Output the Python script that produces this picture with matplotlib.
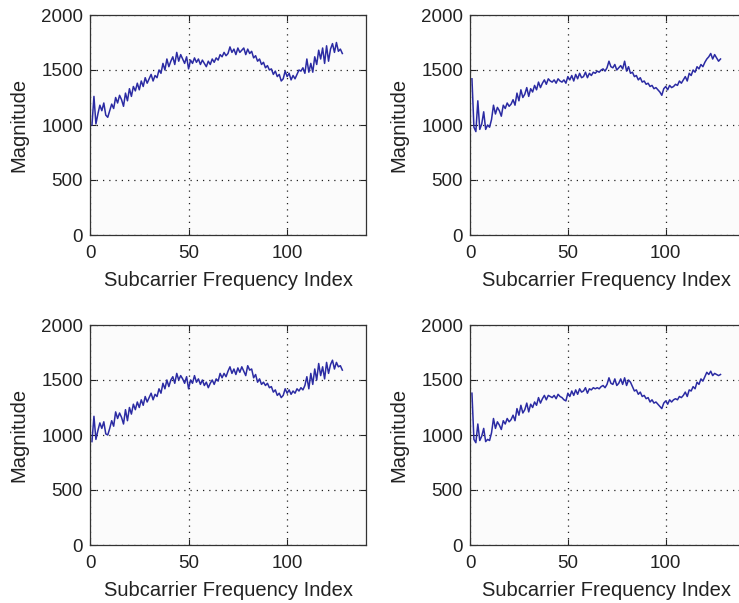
import numpy as np
import matplotlib
matplotlib.use("Agg")
import matplotlib.pyplot as plt

plt.rcParams['font.family'] = ['Liberation Sans', 'DejaVu Sans']

# subcarrier index 1..128
idx = np.arange(1, 129)

# magnitude, top-left panel
mag_tl = [
    1000, 1260, 1010, 1100, 1180, 1130, 1200, 1090,
    1070, 1130, 1190, 1150, 1250, 1200, 1270, 1230,
    1170, 1290, 1220, 1330, 1260, 1350, 1310, 1380,
    1320, 1400, 1350, 1430, 1380, 1420, 1460, 1400,
    1450, 1430, 1500, 1470, 1560, 1500, 1600, 1530,
    1580, 1620, 1550, 1660, 1580, 1640, 1600, 1560,
    1620, 1510, 1590, 1560, 1610, 1570, 1600, 1550,
    1590, 1560, 1530, 1580, 1550, 1600, 1570, 1610,
    1590, 1640, 1620, 1660, 1630, 1650, 1710, 1660,
    1690, 1640, 1700, 1660, 1680, 1700, 1640, 1690,
    1650, 1670, 1610, 1630, 1580, 1600, 1550, 1570,
    1520, 1540, 1500, 1510, 1460, 1490, 1440, 1460,
    1400, 1420, 1490, 1440, 1470, 1410, 1450, 1420,
    1460, 1500, 1490, 1520, 1470, 1600, 1480, 1560,
    1480, 1620, 1550, 1680, 1600, 1700, 1560, 1720,
    1580, 1690, 1740, 1660, 1750, 1670, 1690, 1650,
]

# magnitude, top-right panel
mag_tr = [
    1420, 980, 940, 1220, 960, 1010, 1120, 960,
    1000, 980, 1050, 1180, 1100, 1160, 1130, 1080,
    1180, 1150, 1200, 1170, 1190, 1230, 1180, 1290,
    1220, 1320, 1250, 1280, 1340, 1260, 1330, 1300,
    1360, 1320, 1390, 1340, 1380, 1410, 1370, 1420,
    1400, 1390, 1410, 1380, 1420, 1400, 1390, 1410,
    1380, 1440, 1410, 1450, 1400, 1460, 1420, 1470,
    1430, 1440, 1480, 1430, 1470, 1450, 1480, 1470,
    1490, 1480, 1500, 1510, 1490, 1520, 1580, 1530,
    1520, 1550, 1500, 1520, 1540, 1510, 1580, 1490,
    1530, 1470, 1480, 1440, 1450, 1410, 1430, 1390,
    1400, 1370, 1380, 1350, 1360, 1330, 1340, 1320,
    1300, 1270, 1330, 1350, 1320, 1360, 1340, 1350,
    1370, 1360, 1400, 1380, 1410, 1440, 1400, 1470,
    1450, 1500, 1480, 1530, 1510, 1550, 1530, 1570,
    1600, 1620, 1650, 1600, 1640, 1610, 1580, 1600,
]

# magnitude, bottom-left panel
mag_bl = [
    940, 1170, 960, 1040, 1110, 1060, 1120, 1010,
    1000, 1060, 1130, 1080, 1210, 1150, 1200, 1160,
    1100, 1230, 1130, 1250, 1190, 1280, 1230, 1300,
    1250, 1320, 1270, 1350, 1300, 1340, 1380, 1320,
    1370, 1350, 1420, 1380, 1470, 1420, 1500, 1440,
    1500, 1530, 1470, 1560, 1500, 1540, 1510, 1470,
    1530, 1420, 1500, 1470, 1540, 1480, 1510, 1460,
    1500, 1450, 1480, 1430, 1470, 1500, 1460, 1510,
    1490, 1560, 1520, 1560, 1530, 1580, 1620, 1560,
    1600, 1550, 1610, 1570, 1620, 1580, 1540, 1630,
    1590, 1600, 1520, 1550, 1480, 1510, 1460, 1480,
    1450, 1470, 1430, 1440, 1390, 1410, 1360, 1380,
    1340, 1360, 1420, 1380, 1410, 1370, 1400, 1380,
    1420, 1400, 1430, 1410, 1450, 1530, 1420, 1560,
    1460, 1600, 1500, 1650, 1540, 1620, 1510, 1660,
    1560, 1640, 1680, 1600, 1660, 1620, 1630, 1590,
]

# magnitude, bottom-right panel
mag_br = [
    1380, 960, 930, 1100, 950, 990, 1060, 940,
    960, 950, 1020, 1150, 1060, 1120, 1090, 1050,
    1130, 1100, 1150, 1120, 1140, 1180, 1130, 1240,
    1180, 1270, 1200, 1230, 1290, 1210, 1280, 1250,
    1300, 1270, 1340, 1290, 1330, 1360, 1320, 1360,
    1350, 1340, 1360, 1330, 1370, 1350, 1340, 1320,
    1310, 1380, 1350, 1400, 1360, 1410, 1370, 1420,
    1390, 1400, 1430, 1380, 1420, 1410, 1430, 1420,
    1430, 1420, 1440, 1450, 1430, 1460, 1520, 1470,
    1460, 1510, 1450, 1470, 1510, 1460, 1520, 1450,
    1500, 1480, 1440, 1400, 1410, 1370, 1390, 1350,
    1360, 1330, 1340, 1300, 1320, 1290, 1300, 1280,
    1260, 1240, 1290, 1310, 1280, 1320, 1300, 1320,
    1330, 1320, 1350, 1340, 1360, 1390, 1350, 1410,
    1400, 1440, 1420, 1480, 1460, 1510, 1490, 1530,
    1570, 1550, 1580, 1540, 1560, 1550, 1540, 1550,
]

xticks = [0, 50, 100]
yticks = [0, 500, 1000, 1500, 2000]

W, H = 739, 603
fig = plt.figure(figsize=(W / 100, H / 100), dpi=100)
fig.patch.set_facecolor('white')

# axes boxes in pixels: (left, top, right, bottom)
boxes = [
    (90, 15, 366, 235, mag_tl),
    (470, 15, 744, 235, mag_tr),
    (90, 325, 366, 545, mag_bl),
    (470, 325, 744, 545, mag_br),
]

for l, t, r, b, mag in boxes:
    ax = fig.add_axes([l / W, 1 - b / H, (r - l) / W, (b - t) / H])
    ax.set_facecolor('#fbfbfb')
    ax.plot(idx, mag, color='#2b2ba3', lw=1.1)
    ax.set_xlim(0, 140)
    ax.set_ylim(0, 2000)
    ax.set_xticks(xticks)
    ax.set_yticks(yticks)
    ax.grid(True, color='#222222', linestyle=(0, (1, 4)), linewidth=0.9)
    ax.tick_params(direction='in', length=4, width=0.8, labelsize=13.5,
                   colors='#222222', top=True, right=True)
    ax.tick_params(axis='x', pad=7)
    ax.tick_params(axis='y', pad=5)
    for s in ax.spines.values():
        s.set_color('#333333')
        s.set_linewidth(0.9)
    ax.set_xlabel('Subcarrier Frequency Index', fontsize=14.5, color='#222222', labelpad=7)
    ax.set_ylabel('Magnitude', fontsize=14.5, color='#222222', labelpad=9)

fig.savefig('out.png', dpi=100)
